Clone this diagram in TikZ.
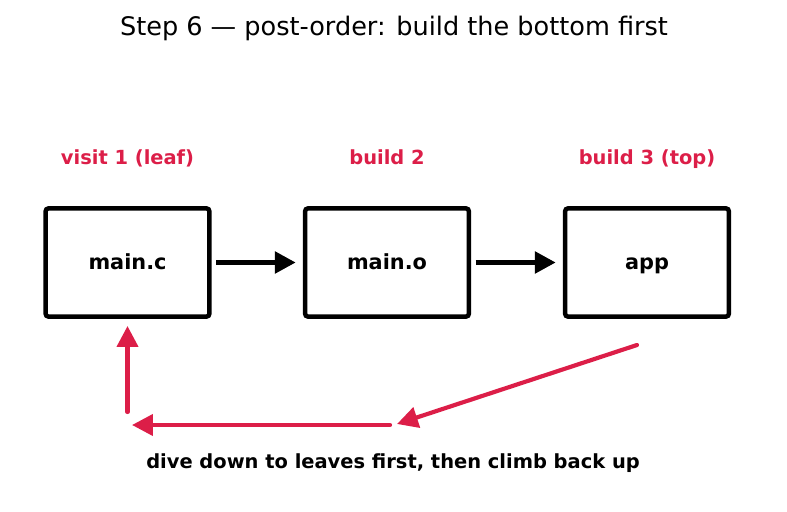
\documentclass[tikz,border=0pt]{standalone}
\usepackage{fontspec}
\setmainfont{DejaVu Sans}
\usetikzlibrary{arrows.meta}
\definecolor{accent}{RGB}{220,30,72}
\tikzset{
  box/.style={draw=black, line width=3.2pt, rounded corners=2.2pt, minimum width=118pt, minimum height=78pt, text height=1.3em, text depth=0.23em, font=\bfseries\fontsize{15}{18}\selectfont},
  lbl/.style={text=accent, text height=1.1em, text depth=0.3em, font=\bfseries\fontsize{14}{17}\selectfont},
  blk/.style={line width=3pt, -{Triangle[length=15pt,width=15.5pt]}},
  red/.style={draw=accent, line width=3pt, line cap=round, -{Triangle[length=15pt,width=15pt]}}
}
\begin{document}
\begin{tikzpicture}[x=0.72pt,y=-0.72pt]
\useasboundingbox (0,0) rectangle (787,512);
\node[font=\fontsize{18.4}{22}\selectfont] (title) at (394,28) {Step 6 — post-order: build the bottom first};
\node[box] (c) at (127.5,262.5) {main.c};
\node[box] (o) at (387,262.5) {main.o};
\node[box] (app) at (647,262.5) {app};
\node[lbl] (l1) at (127.5,159) {visit 1 (leaf)};
\node[lbl] (l2) at (387,159) {build 2};
\node[lbl] (l3) at (647,159) {build 3 (top)};
\draw[blk, shorten <=3.2pt, shorten >=5.2pt] (c.east) -- (o.west);
\draw[blk, shorten <=3.2pt, shorten >=5.2pt] (o.east) -- (app.west);
\coordinate (r1) at (637,345);
\coordinate (r2) at (397,424);
\coordinate (r3) at (390,425);
\coordinate (r4) at (132,425);
\coordinate (r5) at (127.5,412);
\coordinate (r6) at (127.5,326);
\draw[red] (r1) -- (r2);
\draw[red] (r3) -- (r4);
\draw[red] (r5) -- (r6);
\node[font=\bfseries\fontsize{14}{17}\selectfont] (cap) at (393,463) {dive down to leaves first, then climb back up};
\end{tikzpicture}
\end{document}
